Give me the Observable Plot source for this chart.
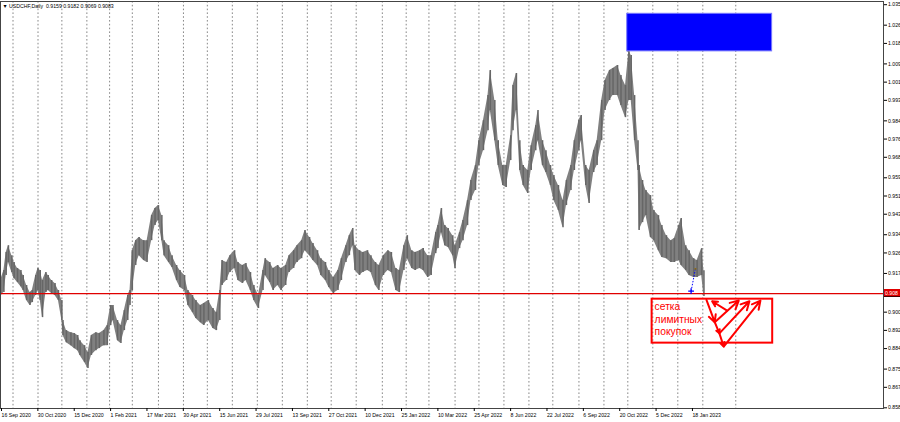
<!DOCTYPE html>
<html><head><meta charset="utf-8">
<script src="https://cdn.jsdelivr.net/npm/d3@7"></script>
<script src="https://cdn.jsdelivr.net/npm/@observablehq/plot@0.6"></script>
<style>
body{margin:0;background:#fff;}
#wrap{position:relative;width:900px;height:422px;overflow:hidden;background:#fff;}
#lvl{position:absolute;left:884px;width:16px;height:8px;background:#e00000;color:#fff;
 font:5.2px "Liberation Sans",sans-serif;line-height:8px;text-align:left;padding-left:1px;box-sizing:border-box;border-bottom:1px solid #400;}
</style></head><body><div id="wrap"></div>
<script>
// trading-day number counted from 16 Sep 2020 (USDCHF, Daily)
const barNo = [
 0,3,5,7,10,12,15,18,20,23,
 26,28,31,33,35,37,40,42,45,48,
 51,54,55,58,62,65,68,70,74,77,
 80,84,87,91,94,97,99,103,106,109,
 112,114,116,119,122,126,129,133,136,139,
 142,144,148,151,155,158,162,165,169,172,
 176,179,183,187,190,193,195,199,202,206,
 209,213,216,220,223,227,231,233,237,240,
 244,247,251,254,258,261,265,268,272,275,
 279,282,286,289,293,297,300,304,307,310,
 312,316,319,323,326,330,333,337,341,344,
 348,351,355,358,362,365,369,372,376,379,
 383,385,388,391,394,398,400,404,407,411,
 414,418,421,425,429,431,435,438,442,445,
 449,451,454,457,460,464,467,471,473,477,
 480,484,487,491,495,498,502,505,509,511,
 515,518,522,525,529,532,536,539,543,546,
 550,553,555,558,561,562,565,568,572,575,
 579,582,586,590,593,597,599,603,606,610,
 613,617,619];
const barHigh = [
 0.9139,0.9183,0.9262,0.9292,0.9248,0.9218,0.9192,0.9183,0.9161,0.9117,
 0.9086,0.9095,0.9161,0.9192,0.9183,0.9139,0.9174,0.9161,0.9139,0.9126,
 0.9095,0.9051,0.8963,0.8919,0.8910,0.8906,0.8897,0.8875,0.8853,0.8823,
 0.8897,0.8910,0.8906,0.8919,0.8941,0.9029,0.9029,0.8963,0.8941,0.9007,
 0.9073,0.9095,0.9270,0.9314,0.9328,0.9314,0.9314,0.9424,0.9455,0.9468,
 0.9424,0.9314,0.9292,0.9248,0.9205,0.9183,0.9161,0.9095,0.9073,0.9051,
 0.9029,0.9038,0.9051,0.9016,0.8998,0.9095,0.9227,0.9218,0.9248,0.9270,
 0.9218,0.9205,0.9214,0.9174,0.9117,0.9073,0.9183,0.9235,0.9218,0.9192,
 0.9205,0.9192,0.9205,0.9248,0.9270,0.9292,0.9314,0.9358,0.9328,0.9301,
 0.9270,0.9235,0.9218,0.9183,0.9152,0.9183,0.9235,0.9292,0.9336,0.9367,
 0.9292,0.9270,0.9262,0.9270,0.9248,0.9218,0.9205,0.9248,0.9270,0.9262,
 0.9192,0.9183,0.9292,0.9336,0.9270,0.9262,0.9270,0.9279,0.9248,0.9248,
 0.9349,0.9380,0.9455,0.9380,0.9367,0.9336,0.9292,0.9349,0.9402,0.9490,
 0.9578,0.9644,0.9753,0.9841,0.9951,1.0061,0.9929,0.9753,0.9644,0.9644,
 0.9775,0.9995,1.0048,0.9753,0.9644,0.9622,0.9731,0.9819,0.9885,0.9753,
 0.9709,0.9644,0.9600,0.9556,0.9490,0.9578,0.9644,0.9753,0.9841,0.9863,
 0.9644,0.9622,0.9709,0.9753,0.9929,1.0017,1.0061,1.0070,1.0083,1.0039,
 0.9995,1.0148,1.0127,0.9951,0.9753,0.9644,0.9578,0.9534,0.9512,0.9446,
 0.9424,0.9380,0.9336,0.9314,0.9323,0.9380,0.9411,0.9292,0.9270,0.9235,
 0.9227,0.9279,0.9182];
const barLow = [
 0.9073,0.9086,0.9161,0.9218,0.9174,0.9148,0.9130,0.9112,0.9095,0.9051,
 0.9029,0.9042,0.9073,0.9095,0.9051,0.8976,0.9086,0.9095,0.9082,0.9073,
 0.9051,0.8963,0.8897,0.8866,0.8853,0.8840,0.8831,0.8810,0.8779,0.8753,
 0.8810,0.8831,0.8840,0.8853,0.8853,0.8941,0.8963,0.8875,0.8862,0.8919,
 0.8963,0.9029,0.9095,0.9205,0.9248,0.9227,0.9218,0.9314,0.9380,0.9402,
 0.9314,0.9248,0.9218,0.9196,0.9139,0.9108,0.9095,0.9029,0.8998,0.8972,
 0.8954,0.8941,0.8963,0.8928,0.8919,0.8963,0.9117,0.9139,0.9174,0.9192,
 0.9139,0.9126,0.9139,0.9095,0.9051,0.9016,0.9095,0.9161,0.9130,0.9095,
 0.9117,0.9095,0.9117,0.9174,0.9192,0.9218,0.9235,0.9270,0.9248,0.9227,
 0.9205,0.9161,0.9139,0.9108,0.9082,0.9095,0.9139,0.9218,0.9248,0.9292,
 0.9183,0.9161,0.9174,0.9183,0.9174,0.9117,0.9095,0.9161,0.9183,0.9174,
 0.9095,0.9086,0.9183,0.9235,0.9192,0.9183,0.9192,0.9183,0.9152,0.9161,
 0.9257,0.9279,0.9349,0.9292,0.9284,0.9248,0.9192,0.9279,0.9314,0.9380,
 0.9490,0.9534,0.9644,0.9709,0.9797,0.9885,0.9753,0.9644,0.9556,0.9547,
 0.9666,0.9797,0.9885,0.9622,0.9556,0.9521,0.9622,0.9709,0.9753,0.9644,
 0.9613,0.9556,0.9490,0.9446,0.9371,0.9468,0.9534,0.9622,0.9709,0.9753,
 0.9556,0.9477,0.9613,0.9644,0.9753,0.9885,0.9929,0.9951,0.9951,0.9907,
 0.9854,0.9929,0.9929,0.9753,0.9622,0.9358,0.9393,0.9424,0.9328,0.9314,
 0.9270,0.9240,0.9235,0.9218,0.9218,0.9227,0.9205,0.9183,0.9161,0.9152,
 0.9152,0.9161,0.9069];

// time axis labels and their bar numbers
const dateLabels = ["16 Sep 2020","30 Oct 2020","15 Dec 2020","1 Feb 2021","17 Mar 2021","30 Apr 2021",
 "15 Jun 2021","29 Jul 2021","13 Sep 2021","27 Oct 2021","10 Dec 2021","25 Jan 2022","10 Mar 2022",
 "25 Apr 2022","8 Jun 2022","22 Jul 2022","6 Sep 2022","20 Oct 2022","5 Dec 2022","18 Jan 2023"];
const dateLabelBars = [0,32,64,96,128,160,192,224,256,288,320,352,384,416,448,480,512,544,576,608];
// vertical grid (month starts, bar numbers)
const gridBars = [11,33,54,76,96,116,139,161,182,204,226,248,270,291,313,336,357,377,400,421,443,465,486,509,531,552,574,596,618,647];
// price axis labels
const priceTicks = [1.035,1.026,1.018,1.009,1.001,0.993,0.984,0.976,0.968,0.959,0.951,0.943,0.934,0.926,0.917,0.900,0.892,0.884,0.875,0.867,0.858];

const header = "▼ USDCHF,Daily  0.9159 0.9182 0.9069 0.9083";
const levelPrice = 0.9081;       // red horizontal level
const levelLabel = "0.908";
const supplyZone = [{x1: 551.5, x2: 679, y1: 1.0145, y2: 1.0310}];   // blue rectangle
const gridZone = [{x1: 573.4, x2: 679.5, y1: 0.8864, y2: 0.9057}];   // red rectangle
const zoneText = [{x: 575.6, y: 0.9047, text: "сетка\nлимитных\nпокупок"}];
const arrows = [
 {x1: 639.4, y1: 0.9007, x2: 626.2, y2: 0.9048},
 {x1: 621.2, y1: 0.9054, x2: 628.5, y2: 0.8956},
 {x1: 628.5, y1: 0.8956, x2: 649.6, y2: 0.9051},
 {x1: 628.5, y1: 0.8956, x2: 632.6, y2: 0.8907},
 {x1: 632.6, y1: 0.8907, x2: 659.0, y2: 0.9048},
 {x1: 632.6, y1: 0.8907, x2: 636.4, y2: 0.8849},
 {x1: 636.4, y1: 0.8849, x2: 668.7, y2: 0.9051}
];
const trade = [{x1: 607.7, y1: 0.9092, x2: 611.5, y2: 0.9190}];

const bars = barNo.map((b, i) => ({b, hi: barHigh[i], lo: barLow[i]}));
const labelOf = new Map(dateLabelBars.map((b, i) => [b, dateLabels[i]]));
const FONT = '"Liberation Sans",Arial,sans-serif';

const chart = Plot.plot({
  width: 900, height: 422,
  marginLeft: 0, marginRight: 17, marginTop: 1, marginBottom: 14,
  style: {fontFamily: FONT, fontSize: "5.2px", background: "#fff", color: "#000", overflow: "visible"},
  x: {domain: [0, 777], axis: null},
  y: {domain: [0.8577, 1.0364], axis: null},
  marks: [
    Plot.ruleX(gridBars, {x: d => d, stroke: "#6a6a6a", strokeWidth: 0.8, strokeDasharray: "1.6,2.2"}),
    Plot.areaY(bars, {x: "b", y1: "lo", y2: "hi", fill: "#808080"}),
    Plot.ruleX(bars, {x: "b", y1: "lo", y2: "hi", stroke: "#666666", strokeWidth: 1.5}),
    Plot.ruleY([levelPrice], {stroke: "#e00000", strokeWidth: 1.3}),
    Plot.rect(supplyZone, {x1: "x1", x2: "x2", y1: "y1", y2: "y2", fill: "#0000ff", stroke: "#7777ff", strokeWidth: 1}),
    Plot.link(trade, {x1: "x1", y1: "y1", x2: "x2", y2: "y2", stroke: "#0000ff", strokeWidth: 1, strokeDasharray: "1.5,1.5"}),
    Plot.dot(trade, {x: "x1", y: "y1", symbol: "plus", r: 2, stroke: "#0000ff", strokeWidth: 1.3}),
    Plot.dot(trade, {x: "x2", y: "y2", symbol: "square", r: 1, fill: "#8a6a10"}),
    Plot.rect(gridZone, {x1: "x1", x2: "x2", y1: "y1", y2: "y2", fill: "none", stroke: "#ff0000", strokeWidth: 2}),
    Plot.text(zoneText, {x: "x", y: "y", text: "text", textAnchor: "start", lineAnchor: "top",
      fill: "#ff0000", fontSize: 10.3, lineHeight: 1.2, fontFamily: FONT}),
    Plot.arrow(arrows, {x1: "x1", y1: "y1", x2: "x2", y2: "y2", stroke: "#ff0000", strokeWidth: 2, headLength: 7, headAngle: 55}),
    Plot.frame({stroke: "#444", strokeWidth: 1}),
    Plot.axisY(priceTicks, {anchor: "right", tickSize: 3, tickPadding: 1.5, tickFormat: d3.format(".3f"), fontSize: 5.2, stroke: "#000"}),
    Plot.axisX(dateLabelBars, {anchor: "bottom", tickSize: 3, tickPadding: 1.5, textAnchor: "start", dx: 1,
      tickFormat: d => labelOf.get(d), fontSize: 5.2, stroke: "#000"}),
    Plot.text([header], {frameAnchor: "top-left", dx: 2, dy: 3, textAnchor: "start", lineAnchor: "top", fontSize: 5.2, fill: "#000"})
  ]
});
const wrap = document.getElementById("wrap");
wrap.appendChild(chart);
const lvl = document.createElement("div");
lvl.id = "lvl";
lvl.textContent = levelLabel;
lvl.style.top = (chart.scale("y").apply(levelPrice) - 4) + "px";
wrap.appendChild(lvl);
</script></body></html>
